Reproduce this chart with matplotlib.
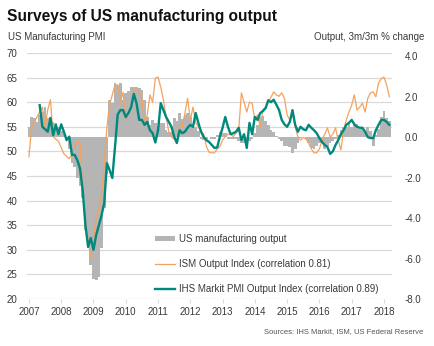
import numpy as np
import matplotlib
matplotlib.use("Agg")
import matplotlib.pyplot as plt
from matplotlib.patches import Patch
from matplotlib.lines import Line2D

plt.rcParams["font.family"] = ["Liberation Sans", "DejaVu Sans"]

# Monthly series, Jan 2007 .. Mar 2018
start_year = 2007
years = list(range(2007, 2019))

# ISM manufacturing production (output) index
ism_output = [
    48.9, 55.0, 56.0, 57.0, 58.0, 59.0, 55.0, 58.5, 60.5, 53.0, 52.5, 52.0,   # 2007
    50.8, 49.5, 49.0, 48.5, 49.5, 51.0, 52.0, 51.5, 42.0, 36.0, 32.0, 28.3,   # 2008
    32.5, 36.5, 38.5, 41.0, 47.5, 55.0, 59.5, 61.5, 63.5, 63.5, 60.0, 62.0,   # 2009
    56.5, 57.5, 59.0, 62.9, 62.5, 62.0, 61.0, 55.5, 57.4, 61.5, 60.0, 64.9,   # 2010
    65.1, 63.1, 60.5, 57.0, 54.0, 53.0, 52.5, 51.9, 55.4, 55.0, 57.8, 60.8,   # 2011
    56.4, 59.0, 55.8, 55.0, 54.0, 53.5, 51.0, 49.8, 49.7, 49.7, 50.5, 51.0,   # 2012
    52.3, 53.0, 53.5, 53.5, 53.0, 53.8, 54.3, 61.9, 60.0, 58.0, 60.0, 59.8,   # 2013
    56.4, 57.4, 55.0, 58.5, 59.0, 60.0, 61.0, 62.1, 61.5, 61.2, 61.9, 60.8,   # 2014
    57.4, 56.4, 57.8, 55.0, 53.0, 52.3, 52.8, 52.5, 51.7, 50.5, 49.7, 49.7,   # 2015
    50.5, 52.3, 53.5, 54.8, 52.9, 53.5, 54.8, 52.3, 50.3, 54.3, 56.4, 58.0,   # 2016
    59.4, 61.5, 58.4, 59.0, 59.8, 58.0, 60.8, 61.9, 62.1, 61.1, 63.9, 64.8,   # 2017
    65.1, 63.5, 61.1,                                                         # 2018
]

# IHS Markit US Manufacturing PMI output index, May 2007 onwards
ihs_start_month = 4
ihs_output = [
    59.4, 55.0, 54.5, 54.0, 56.8, 53.3, 55.4, 53.5,                           # 2007
    55.5, 54.0, 52.3, 53.0, 49.3, 49.3, 48.2, 46.5, 42.0, 35.0, 30.6, 32.4,   # 2008
    30.0, 33.0, 35.0, 37.0, 39.5, 47.6, 46.2, 44.6, 50.9, 57.5, 58.4, 58.4,   # 2009
    57.0, 57.8, 59.0, 61.7, 59.8, 56.4, 56.4, 55.4, 56.0, 54.3, 53.7, 51.8,   # 2010
    54.3, 59.8, 58.4, 57.0, 56.0, 55.0, 53.0, 51.7, 54.3, 53.7, 54.0, 54.8,   # 2011
    55.4, 55.0, 57.8, 55.8, 54.0, 52.9, 52.3, 51.9, 51.3, 50.7, 50.8, 53.0,   # 2012
    54.8, 57.0, 55.0, 53.5, 53.7, 54.0, 54.8, 52.3, 53.5, 50.7, 55.8, 53.5,   # 2013
    57.0, 56.4, 57.8, 58.2, 58.8, 60.4, 60.0, 60.5, 59.5, 58.4, 56.4, 55.5,   # 2014
    55.0, 56.0, 58.4, 55.4, 54.0, 55.0, 54.5, 54.3, 55.4, 54.8, 54.3, 53.7,   # 2015
    52.7, 51.9, 51.3, 50.9, 49.5, 50.0, 51.3, 52.3, 53.5, 54.3, 55.4, 55.8,   # 2016
    56.4, 55.5, 55.0, 54.8, 54.8, 54.0, 52.9, 52.7, 52.7, 54.3, 55.4, 56.4,   # 2017
    56.4, 56.0, 55.4,                                                         # 2018
]

# US Federal Reserve manufacturing output, 3m/3m % change
fed_output = [
    0.52, 1.0, 0.96, 0.77, 1.1, 1.26, 1.5, 0.96, 1.0, 0.75, 0.7, 0.5,         # 2007
    0.3, 0.2, -0.1, -0.6, -1.27, -1.45, -2.0, -2.4, -3.0, -4.6, -5.5, -6.3,   # 2008
    -7.0, -7.05, -6.9, -5.5, -3.5, -1.8, 1.85, 1.7, 2.7, 2.6, 2.7, 1.85,      # 2009
    2.2, 2.3, 2.5, 2.5, 2.5, 2.45, 2.35, 1.85, 1.0, 0.6, 0.86, 0.7,           # 2010
    0.52, 0.7, 0.7, 0.37, 0.27, 0.27, 0.96, 0.8, 1.2, 0.9, 1.1, 1.2,          # 2011
    1.0, 0.6, 0.5, 0.3, -0.1, -0.12, -0.1, 0.0, -0.1, -0.1, 0.1, 0.27,        # 2012
    0.2, 0.2, -0.1, -0.1, -0.1, -0.1, -0.2, -0.3, -0.3, -0.3, -0.2, -0.1,     # 2013
    0.2, 0.6, 1.0, 1.05, 0.8, 0.6, 0.37, 0.27, 0.05, -0.1, -0.2, -0.45,       # 2014
    -0.45, -0.5, -0.77, -0.6, -0.3, -0.05, 0.02, -0.1, -0.3, -0.52, -0.6, -0.45,  # 2015
    -0.3, -0.25, -0.6, -0.45, -0.3, -0.2, -0.1, 0.1, 0.37, 0.5, 0.5, 0.65,    # 2016
    0.5, 0.6, 0.65, 0.4, 0.45, 0.3, 0.52, 0.3, -0.45, 0.1, 0.4, 1.0,          # 2017
    1.3, 0.96, 0.8,                                                           # 2018
]

pmi_ticks = [20, 25, 30, 35, 40, 45, 50, 55, 60, 65, 70]
pct_ticks = [-8.0, -6.0, -4.0, -2.0, 0.0, 2.0, 4.0]

title = "Surveys of US manufacturing output"
left_label = "US Manufacturing PMI"
right_label = "Output, 3m/3m % change"
source = "Sources: IHS Markit, ISM, US Federal Reserve"
bar_name = "US manufacturing output"
ism_name = "ISM Output Index (correlation 0.81)"
ihs_name = "IHS Markit PMI Output Index (correlation 0.89)"

GRAY_BAR = "#b5b5b5"
ORANGE = "#f4a25e"
TEAL = "#00897b"
GRID = "#d9d9d9"
TEXT = "#3a3a3a"

def month_axis(n, offset=0):
    return start_year + (np.arange(n) + offset) / 12.0

t_ism = month_axis(len(ism_output))
t_ihs = month_axis(len(ihs_output), ihs_start_month)
t_fed = month_axis(len(fed_output))

W, H = 434, 346
fig = plt.figure(figsize=(W / 100, H / 100), dpi=100)
rect = [27 / W, 1 - 299 / H, (392 - 27) / W, (299 - 53) / H]

# Base axes: PMI scale, gridlines and left labels
ax = fig.add_axes(rect)
ax.set_ylim(20, 70)
ax.set_yticks(pmi_ticks)
ax.grid(axis="y", color=GRID, linewidth=0.9)
ax.set_axisbelow(True)
ax.tick_params(axis="y", length=0, labelsize=7, pad=7, colors=TEXT)
ax.set_xlim(2006.94, 2018.25)
ax.set_xticks(years)
ax.tick_params(axis="x", length=3, color=GRID, labelsize=7, pad=3, colors=TEXT)
for s in ax.spines.values():
    s.set_visible(False)

# Bars on the percent-change scale
axb = ax.twinx()
axb.bar(t_fed, fed_output, width=1 / 12.0, color=GRAY_BAR, linewidth=0, align="center")
axb.set_ylim(-8, 4.17)
axb.set_yticks(pct_ticks)
axb.set_yticklabels([f"{v:.1f}" for v in pct_ticks])
axb.tick_params(axis="y", length=0, labelsize=7, pad=9, colors=TEXT)
for s in axb.spines.values():
    s.set_visible(False)

# Survey lines on the PMI scale, drawn on top
axl = ax.twinx()
axl.set_ylim(20, 70)
axl.plot(t_ism, ism_output, color=ORANGE, linewidth=0.9)
axl.plot(t_ihs, ihs_output, color=TEAL, linewidth=1.7)
axl.set_yticks([])
for s in axl.spines.values():
    s.set_visible(False)
axl.set_xlim(ax.get_xlim())

# Legend
handles = [
    Patch(facecolor=GRAY_BAR, edgecolor="none"),
    Line2D([], [], color=ORANGE, linewidth=0.9),
    Line2D([], [], color=TEAL, linewidth=1.7),
]
leg = axl.legend(handles, [bar_name, ism_name, ihs_name], loc="upper left",
                 bbox_to_anchor=(155 / W, 1 - 234 / H), bbox_transform=fig.transFigure,
                 frameon=False, fontsize=7, handlelength=2.1, handleheight=0.5,
                 handletextpad=0.35, labelspacing=1.55, borderpad=0, borderaxespad=0)
for txt in leg.get_texts():
    txt.set_color(TEXT)

# Titles and notes
fig.text(7 / W, 1 - 17 / H, title, fontsize=11.2, fontweight="bold", va="center", ha="left",
         color="#111111")
fig.text(8 / W, 1 - 37 / H, left_label, fontsize=7, va="center", ha="left", color=TEXT)
fig.text(424 / W, 1 - 37 / H, right_label, fontsize=7, va="center", ha="right", color=TEXT)
fig.text(423 / W, 1 - 332 / H, source, fontsize=5.5, va="center", ha="right", color="#555555")

fig.savefig("out.png", dpi=100)
